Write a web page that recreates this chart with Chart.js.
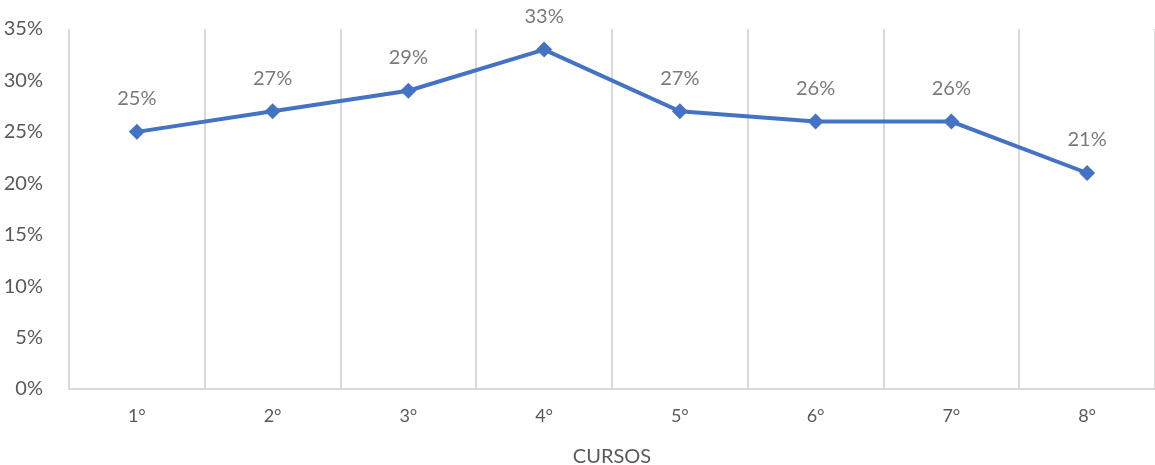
<!DOCTYPE html>
<html>
<head>
<meta charset="utf-8">
<script src="https://cdn.jsdelivr.net/npm/chart.js@4/dist/chart.umd.min.js"></script>
<style>
    html, body { margin: 0; padding: 0; background: #ffffff; overflow: hidden; }
    #wrap { width: 1155px; height: 465px; position: relative; }
</style>
</head>
<body>
<div id="wrap"><canvas id="cursosChart"></canvas></div>
<script>
// Dados do gráfico
const cursos = ['1°', '2°', '3°', '4°', '5°', '6°', '7°', '8°'];
const porcentagens = [25, 27, 29, 33, 27, 26, 26, 21];
const yTicks = [0, 5, 10, 15, 20, 25, 30, 35];

const FONTE = "Lato, 'Open Sans', sans-serif";

// Rótulos de valor acima de cada ponto
const rotulosPlugin = {
    id: 'rotulos',
    afterDatasetsDraw(chart) {
        const ctx = chart.ctx;
        const meta = chart.getDatasetMeta(0);
        ctx.save();
        ctx.font = '20px ' + FONTE;
        ctx.fillStyle = '#7a7a7a';
        ctx.textAlign = 'center';
        ctx.textBaseline = 'middle';
        meta.data.forEach((pt, i) => {
            ctx.fillText(porcentagens[i] + '%', pt.x, pt.y - 33);
        });
        ctx.restore();
    }
};

// Zera o recuo automático que as escalas pedem para os rótulos das pontas
function semRecuo(scale) {
    scale.paddingTop = 0;
    scale.paddingBottom = 0;
    scale.paddingLeft = 0;
    scale.paddingRight = 0;
}

const ctx = document.getElementById('cursosChart');

new Chart(ctx, {
    type: 'line',
    data: {
        labels: cursos,
        datasets: [{
            data: porcentagens,
            borderColor: '#4472C4',
            backgroundColor: '#4472C4',
            borderWidth: 4,
            pointStyle: 'rectRot',
            pointRadius: 8,
            pointBackgroundColor: '#4472C4',
            pointBorderWidth: 0,
            tension: 0,
            clip: false
        }]
    },
    options: {
        responsive: true,
        maintainAspectRatio: false,
        animation: false,
        layout: {
            autoPadding: false,
            padding: { top: 29, right: 0, left: 0, bottom: 0 }
        },
        plugins: {
            legend: { display: false },
            tooltip: { enabled: false }
        },
        scales: {
            x: {
                offset: true,
                grid: {
                    offset: true,
                    color: '#d9d9d9',
                    lineWidth: 2,
                    drawTicks: false
                },
                border: { display: true, color: '#d9d9d9', width: 2 },
                ticks: {
                    color: '#595959',
                    font: { family: FONTE, size: 18 },
                    padding: 16
                },
                title: {
                    display: true,
                    text: 'CURSOS',
                    color: '#595959',
                    font: { family: FONTE, size: 20 },
                    padding: { top: 10, bottom: -4 }
                },
                afterFit(scale) {
                    scale.height = 76;
                    semRecuo(scale);
                }
            },
            y: {
                min: 0,
                max: 35,
                afterBuildTicks(scale) {
                    scale.ticks = yTicks.map(v => ({ value: v }));
                },
                grid: { display: false },
                border: { display: false },
                ticks: {
                    color: '#595959',
                    font: { family: FONTE, size: 20 },
                    padding: 18,
                    callback: v => v + '%'
                },
                afterFit(scale) {
                    scale.width = 69;
                    semRecuo(scale);
                }
            }
        }
    },
    plugins: [rotulosPlugin]
});
</script>
</body>
</html>
